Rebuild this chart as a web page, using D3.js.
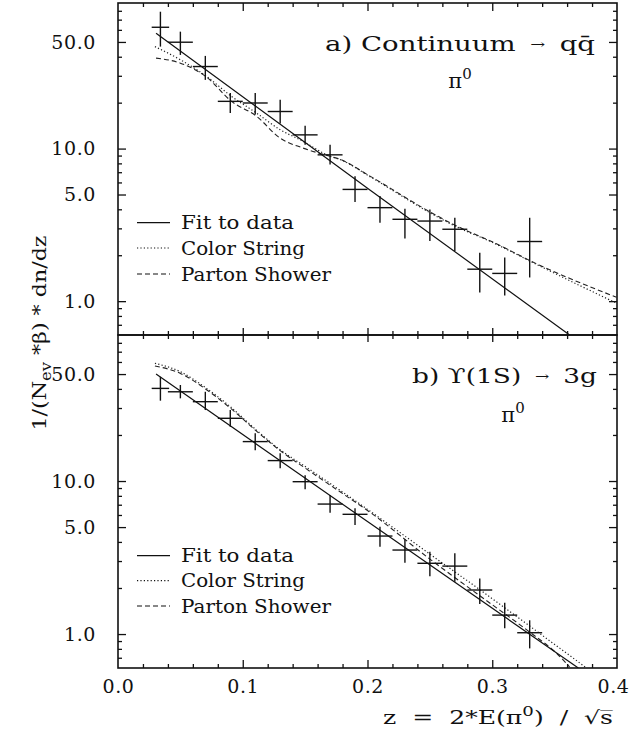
<!DOCTYPE html>
<html><head><meta charset="utf-8">
<script src="https://cdn.jsdelivr.net/npm/d3@7"></script>
<style>
body{margin:0;background:#fff}
svg{display:block}
text{font-family:"DejaVu Serif",serif;fill:#111}
</style>
</head><body>
<svg id="c" width="630" height="736"></svg>
<script>
// ---------------- data ----------------
const zBin      = [0.034,0.05,0.07,0.09,0.11,0.13,0.15,0.17,0.19,0.21,0.23,0.25,0.27,0.29,0.31,0.33];
const zHalf     = [0.007,0.01,0.01,0.01,0.01,0.01,0.01,0.01,0.01,0.01,0.01,0.01,0.01,0.01,0.01,0.01];

// a) Continuum -> q qbar
const contVal   = [62.4,49.8,34.5,20.4,19.9,17.5,12.3,9.1,5.4,4.1,3.44,3.35,2.96,1.62,1.52,2.46];
const contHi    = [78.9,58.4,40.5,23.1,23.1,20.9,14.1,10.6,6.59,4.88,4.04,3.99,3.52,2.08,1.93,3.52];
const contLo    = [46.6,41.1,28.2,17.1,16.7,14.6,10.6,7.86,4.46,3.27,2.57,2.48,2.13,1.14,1.09,1.43];
const contFitZ  = [0.0305,0.2,0.362];
const contFitV  = [57,5.5,0.6];
const contCsZ   = [0.0296,0.05,0.071,0.091,0.111,0.13,0.148,0.17,0.178,0.202,0.25,0.27,0.30,0.338,0.3996];
const contCsV   = [46.6,38.2,29.7,22.0,17.1,13.3,11.2,8.9,8.48,6.55,3.8,3.11,2.43,1.70,0.97];
const contPsZ   = [0.0305,0.05,0.071,0.091,0.111,0.13,0.148,0.17,0.178,0.202,0.25,0.27,0.30,0.338,0.3996];
const contPsV   = [39.2,36.3,29.4,20.4,16.3,11.7,10.1,8.9,8.5,6.6,3.85,3.15,2.45,1.72,1.06];

// b) Upsilon(1S) -> 3g
const upsVal    = [40.3,38.3,33.0,25.7,18.1,13.6,9.9,7.07,6.06,4.37,3.54,2.90,2.78,1.94,1.33,1.02];
const upsHi     = [48.0,42.4,38.3,29.1,20.5,15.2,10.9,8.1,6.63,5.03,4.16,3.45,3.37,2.31,1.60,1.23];
const upsLo     = [33.5,34.7,29.1,22.6,15.9,12.1,8.83,6.21,5.16,3.72,2.92,2.39,2.20,1.57,1.09,0.806];
const upsFitZ   = [0.0305,0.202,0.369];
const upsFitV   = [50,5.29,0.6];
const upsCsZ    = [0.0296,0.05,0.071,0.09,0.111,0.13,0.151,0.178,0.202,0.25,0.29,0.338,0.3756];
const upsCsV    = [58.8,51.8,40.3,30.6,21.5,16.0,12.3,8.7,6.36,3.33,1.95,1.01,0.6];
const upsPsZ    = [0.0296,0.05,0.071,0.09,0.111,0.13,0.151,0.178,0.202,0.25,0.29,0.33,0.3516,0.362];
const upsPsV    = [56.5,50.5,39.5,30.0,21.2,15.8,12.0,8.5,6.25,3.09,1.78,1.03,0.748,0.61];

// axes
const yDomain     = [0.6, 90];
const yMajorTicks = [1, 5, 10, 50];
const yMinorTicks = [0.7,0.8,0.9,2,3,4,6,7,8,9,20,30,40,60,70,80];
const xDomain     = [0, 0.4];
const xMajorTicks = [0.1, 0.2, 0.3];
const xMinorTicks = [0.02,0.04,0.06,0.08,0.12,0.14,0.16,0.18,0.22,0.24,0.26,0.28,0.32,0.34,0.36,0.38];
const xLabelTicks = [0, 0.1, 0.2, 0.3, 0.4];
const legendNames = ["Fit to data", "Color String", "Parton Shower"];

// ---------------- drawing ----------------
const svg = d3.select("#c");
const L = 118, R = 617;
const x = d3.scaleLinear().domain(xDomain).range([L, R]);

const panels = [
  {top:3, bottom:335, val:contVal, hi:contHi, lo:contLo,
   fit:[contFitZ,contFitV], cs:[contCsZ,contCsV], ps:[contPsZ,contPsV],
   legendY:[222.7,248,274], titleA:"a) Continuum ", titleB:" q\u0071\u0304", titleX:325, titleW:270, titleY:51,
   piX:460, piY:88},
  {top:335, bottom:668, val:upsVal, hi:upsHi, lo:upsLo,
   fit:[upsFitZ,upsFitV], cs:[upsCsZ,upsCsV], ps:[upsPsZ,upsPsV],
   legendY:[555.7,580.7,606], titleA:"b) \u03D2(1S) ", titleB:" 3g", titleX:412, titleW:185, titleY:383,
   piX:513, piY:422}
];

const styleAxis = g => {
  g.select(".domain").remove();
  g.selectAll("line").attr("stroke","#111").attr("stroke-width",1.3);
  g.attr("font-family",null).attr("font-size",null);
};

panels.forEach((p, i) => {
  const y = d3.scaleLog().domain(yDomain).range([p.bottom, p.top]);
  const clipId = "clip"+i;
  svg.append("clipPath").attr("id",clipId).append("rect")
     .attr("x",L).attr("y",p.top).attr("width",R-L).attr("height",p.bottom-p.top);

  // left axis
  svg.append("g").attr("transform",`translate(${L},0)`)
     .call(d3.axisLeft(y).tickValues(yMinorTicks).tickSize(-4).tickFormat("")).call(styleAxis);
  const la = svg.append("g").attr("transform",`translate(${L},0)`)
     .call(d3.axisLeft(y).tickValues(yMajorTicks).tickSize(-8).tickPadding(22).tickFormat(d3.format(".1f")))
     .call(styleAxis);
  la.selectAll("text").attr("font-size",19).attr("letter-spacing",0.6).attr("fill","#111");
  // right axis
  svg.append("g").attr("transform",`translate(${R},0)`)
     .call(d3.axisRight(y).tickValues(yMinorTicks).tickSize(-4).tickFormat("")).call(styleAxis);
  svg.append("g").attr("transform",`translate(${R},0)`)
     .call(d3.axisRight(y).tickValues(yMajorTicks).tickSize(-8).tickFormat("")).call(styleAxis);

  // frame
  svg.append("rect").attr("x",L).attr("y",p.top).attr("width",R-L).attr("height",p.bottom-p.top)
     .attr("fill","none").attr("stroke","#111").attr("stroke-width",1.6);

  const g = svg.append("g").attr("clip-path",`url(#${clipId})`);
  const line = d3.line().x(d=>x(d[0])).y(d=>y(d[1]));
  const smooth = d3.line().x(d=>x(d[0])).y(d=>y(d[1])).curve(d3.curveMonotoneX);
  const zip = (a,b) => a.map((v,k)=>[v,b[k]]);

  // model curves
  g.append("path").attr("d",smooth(zip(p.cs[0],p.cs[1]))).attr("fill","none")
   .attr("stroke","#222").attr("stroke-width",1.2).attr("stroke-dasharray","1.2,2.2");
  g.append("path").attr("d",smooth(zip(p.ps[0],p.ps[1]))).attr("fill","none")
   .attr("stroke","#222").attr("stroke-width",1.1).attr("stroke-dasharray","5,3");
  g.append("path").attr("d",line(zip(p.fit[0],p.fit[1]))).attr("fill","none")
   .attr("stroke","#111").attr("stroke-width",1.2);

  // data crosses
  const pts = zBin.map((z,k)=>({z, h:zHalf[k], v:p.val[k], hi:p.hi[k], lo:p.lo[k]}));
  const cr = g.append("g").attr("stroke","#111").attr("stroke-width",1.4);
  cr.selectAll("line.v").data(pts).join("line").attr("class","v")
    .attr("x1",d=>x(d.z)).attr("x2",d=>x(d.z)).attr("y1",d=>y(d.lo)).attr("y2",d=>y(d.hi));
  cr.selectAll("line.h").data(pts).join("line").attr("class","h")
    .attr("x1",d=>x(d.z-d.h)).attr("x2",d=>x(d.z+d.h)).attr("y1",d=>y(d.v)).attr("y2",d=>y(d.v));

  // legend
  const dash = [null, "1.2,2.2", "5,3"];
  const lens = [113, 124, 150];
  legendNames.forEach((name,k) => {
    const ly = p.legendY[k];
    svg.append("line").attr("x1",137).attr("x2",170).attr("y1",ly).attr("y2",ly)
       .attr("stroke","#111").attr("stroke-width",1.2).attr("stroke-dasharray",dash[k]);
    svg.append("text").attr("x",181).attr("y",ly+6.5).attr("font-size",18)
       .attr("textLength",lens[k]).attr("lengthAdjust","spacingAndGlyphs").text(name);
  });

  // title
  const t = svg.append("text").attr("x",p.titleX).attr("y",p.titleY).attr("font-size",20)
     .attr("xml:space","preserve").attr("textLength",p.titleW).attr("lengthAdjust","spacingAndGlyphs");
  t.append("tspan").text(p.titleA);
  t.append("tspan").attr("font-size",13).attr("dy",-2).text(" \u2192 ");
  t.append("tspan").attr("dy",2).text(p.titleB);
  const pi = svg.append("text").attr("x",p.piX).attr("y",p.piY).attr("font-size",21).attr("text-anchor","middle");
  pi.append("tspan").text("\u03C0");
  pi.append("tspan").attr("dy",-9).attr("font-size",15).text("0");
});

// top axis of panel a
svg.append("g").attr("transform","translate(0,3)")
   .call(d3.axisTop(x).tickValues(xMinorTicks).tickSize(-4).tickFormat("")).call(styleAxis);
svg.append("g").attr("transform","translate(0,3)")
   .call(d3.axisTop(x).tickValues(xMajorTicks).tickSize(-8).tickFormat("")).call(styleAxis);
// separator ticks (both directions)
[[xMinorTicks,4],[xMajorTicks,7]].forEach(([tv,s])=>{
  svg.append("g").attr("transform","translate(0,335)")
     .call(d3.axisTop(x).tickValues(tv).tickSize(s).tickFormat("")).call(styleAxis);
  svg.append("g").attr("transform","translate(0,335)")
     .call(d3.axisBottom(x).tickValues(tv).tickSize(s).tickFormat("")).call(styleAxis);
});
// bottom axis
svg.append("g").attr("transform","translate(0,668)")
   .call(d3.axisBottom(x).tickValues(xMinorTicks).tickSize(-4).tickFormat("")).call(styleAxis);
svg.append("g").attr("transform","translate(0,668)")
   .call(d3.axisBottom(x).tickValues(xMajorTicks).tickSize(-8).tickFormat("")).call(styleAxis);
const bl = svg.append("g").attr("transform","translate(0,668)")
   .call(d3.axisBottom(x).tickValues(xLabelTicks).tickSize(0).tickPadding(12).tickFormat(d3.format(".1f")))
   .call(styleAxis);
bl.selectAll("text").attr("font-size",19).attr("letter-spacing",0.6).attr("fill","#111");
bl.selectAll("text").filter(d=>d===0.4).attr("text-anchor","end").attr("x",12);

// axis titles
const xt = svg.append("text").attr("x",383).attr("y",724).attr("font-size",18)
   .attr("xml:space","preserve").attr("textLength",230).attr("lengthAdjust","spacingAndGlyphs");
xt.append("tspan").text("z  =  2*E(\u03C0");
xt.append("tspan").attr("dy",-8).attr("font-size",13).text("0");
xt.append("tspan").attr("dy",8).text(")  /  \u221As\u0305");

const yt = svg.append("text").attr("transform","translate(46,333) rotate(-90)")
   .attr("text-anchor","middle").attr("font-size",19)
   .attr("textLength",195).attr("lengthAdjust","spacingAndGlyphs");
yt.append("tspan").text("1/(N");
yt.append("tspan").attr("dy",5).attr("font-size",14).text("ev");
yt.append("tspan").attr("dy",-5).attr("xml:space","preserve").text(" *\u03B2) * dn/dz");
</script>
</body></html>
